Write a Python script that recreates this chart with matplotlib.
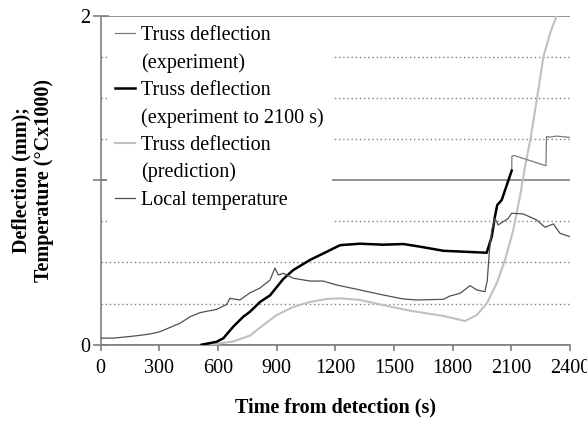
import matplotlib
matplotlib.use('Agg')
import matplotlib.pyplot as plt
from matplotlib.lines import Line2D
from matplotlib.ticker import MultipleLocator

# local temperature (degC x 1000)
temp_t = [0, 63, 150, 201, 252, 303, 354, 405, 457, 508, 593, 644, 661, 712, 763, 815,
          866, 891, 908, 934, 985, 1070, 1138, 1207, 1326, 1445, 1548, 1616, 1752,
          1786, 1837, 1889, 1923, 1965, 1977, 1987, 2000, 2016, 2033, 2059, 2084,
          2102, 2161, 2230, 2272, 2315, 2349, 2400]
temp_v = [0.04, 0.04, 0.05, 0.057, 0.065, 0.079, 0.105, 0.13, 0.17, 0.195, 0.215, 0.245,
          0.282, 0.272, 0.315, 0.345, 0.393, 0.466, 0.424, 0.434, 0.404, 0.387, 0.387,
          0.363, 0.333, 0.302, 0.278, 0.272, 0.276, 0.296, 0.312, 0.359, 0.333, 0.322,
          0.39, 0.556, 0.697, 0.768, 0.728, 0.748, 0.768, 0.799, 0.795, 0.758, 0.714,
          0.734, 0.677, 0.657]

# truss deflection, experiment (mm)
exp_t = [516, 593, 627, 678, 729, 763, 815, 866, 934, 985, 1070, 1156, 1224, 1326, 1445,
         1548, 1633, 1752, 1974, 2000, 2016, 2028, 2051, 2068, 2102,
         2103, 2115, 2277, 2280, 2300, 2330, 2360, 2400]
exp_v = [0.0, 0.018, 0.039, 0.11, 0.17, 0.2, 0.26, 0.3, 0.4, 0.454, 0.515, 0.565, 0.605,
         0.614, 0.608, 0.612, 0.596, 0.571, 0.559, 0.657, 0.778, 0.849, 0.88, 0.94, 1.058,
         1.147, 1.15, 1.088, 1.265, 1.262, 1.268, 1.265, 1.26]
cut = 2102  # experiment shown in black up to 2100 s

# truss deflection, prediction (mm)
pred_t = [560, 593, 678, 763, 832, 900, 985, 1070, 1156, 1224, 1326, 1445, 1580, 1752,
          1863, 1923, 1974, 2025, 2068, 2110, 2144, 2170, 2197, 2230, 2264, 2298, 2332]
pred_v = [0.0, 0.005, 0.02, 0.055, 0.12, 0.18, 0.23, 0.26, 0.278, 0.282, 0.272, 0.241,
          0.207, 0.175, 0.144, 0.18, 0.25, 0.373, 0.515, 0.697, 0.9, 1.082, 1.244, 1.488,
          1.75, 1.893, 2.0]

plt.rcParams['font.family'] = ['Liberation Serif', 'DejaVu Serif']
fs = 14.5
grey = '#808080'

fig = plt.figure(figsize=(5.87, 4.24), dpi=100)
ax = fig.add_axes([0.1716, 0.187, 0.7994, 0.776])

ax.plot(pred_t, pred_v, color='#c0c0c0', lw=1.5, zorder=3)
ax.plot(exp_t, exp_v, color='#7a7a7a', lw=0.9, zorder=4)
black_t = [t for t in exp_t if t <= cut]
black_v = exp_v[:len(black_t)]
ax.plot(black_t, black_v, color='black', lw=1.8, zorder=5)
ax.plot(temp_t, temp_v, color='#505050', lw=0.9, zorder=6)

ax.set_xlim(0, 2400)
ax.set_ylim(0, 2)
ax.set_xticks(range(0, 2401, 300))
ax.set_yticks([0, 1, 2])
ax.set_yticklabels(['0', '', '2'])
ax.yaxis.set_minor_locator(MultipleLocator(0.25))
ax.grid(True, axis='y', which='major', color=grey, lw=1.2, ls='-')
ax.grid(True, axis='y', which='minor', color=grey, lw=1.0, ls=(0, (1, 2)))
ax.set_axisbelow(True)

for s in ['top', 'right']:
    ax.spines[s].set_visible(False)
for s in ['left', 'bottom']:
    ax.spines[s].set_color(grey)
    ax.spines[s].set_linewidth(1.2)
ax.tick_params(axis='x', direction='out', length=4.5, color=grey, width=1.2,
               labelsize=fs, pad=6)
ax.tick_params(axis='y', which='major', direction='inout', length=11, color=grey,
               width=1.2, labelsize=fs, pad=2)
ax.tick_params(axis='y', which='minor', length=0)

ax.set_xlabel('Time from detection (s)', fontsize=fs, fontweight='bold', labelpad=14)
ax.set_ylabel('Deflection (mm);\nTemperature (°Cx1000)', fontsize=fs,
              fontweight='bold', labelpad=19, linespacing=1.15)

blank = Line2D([], [], lw=0, color='none')
handles = [Line2D([], [], color='#7a7a7a', lw=0.9), blank,
           Line2D([], [], color='black', lw=1.8), blank,
           Line2D([], [], color='#c0c0c0', lw=1.5), blank,
           Line2D([], [], color='#505050', lw=0.9), blank]
labels = ['Truss deflection', '(experiment)', 'Truss deflection',
          '(experiment to 2100 s)', 'Truss deflection', '(prediction)',
          'Local temperature', ' ']
leg = ax.legend(handles, labels, loc='upper left', bbox_to_anchor=(0.013, 0.994),
                fontsize=fs, frameon=True, framealpha=1, edgecolor='none',
                facecolor='white', fancybox=False, handlelength=1.0,
                handletextpad=0.3, labelspacing=0.4, borderaxespad=0,
                borderpad=0.4)
leg.set_zorder(2.5)

fig.savefig('out.png', dpi=100)
